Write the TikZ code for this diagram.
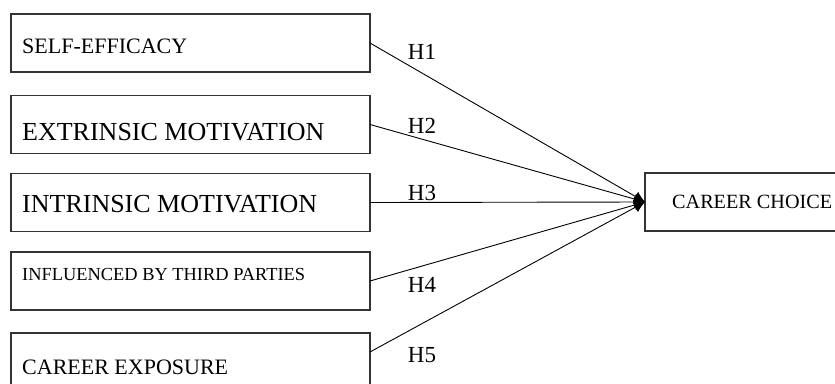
\documentclass[tikz,border=0pt]{standalone}
\usepackage{fontspec}
\setmainfont{Liberation Serif}
\usetikzlibrary{arrows.meta}

\begin{document}
\begin{tikzpicture}[x=1pt, y=-1pt,
    factor/.style={rectangle, draw=black!80, line width=1.2pt, minimum width=359pt, minimum height=58pt, inner sep=0pt, outer sep=0pt},
    txt/.style={anchor=west, inner sep=0pt},
    hyp/.style={inner sep=0pt, font=\fontsize{23}{27}\selectfont},
    link/.style={draw, line width=0.9pt, -{Latex[length=11pt,width=11pt]}}]
    \useasboundingbox (0,0) rectangle (835,383);
    % Place nodes
    \node [factor] (SE) at (190.5,43) {};
    \node [txt, font=\fontsize{22}{26}\selectfont] (SEt) at ([xshift=11pt,yshift=-3pt]SE.west) {SELF-EFFICACY};
    \node [factor] (EM) at (190.5,124.5) {};
    \node [txt, font=\fontsize{26}{30}\selectfont] (EMt) at ([xshift=11pt,yshift=-7.5pt]EM.west) {EXTRINSIC MOTIVATION};
    \node [factor] (IM) at (190.5,202.5) {};
    \node [txt, font=\fontsize{26}{30}\selectfont] (IMt) at ([xshift=11pt,yshift=-2pt]IM.west) {INTRINSIC MOTIVATION};
    \node [factor] (TP) at (190.5,281) {};
    \node [txt, font=\fontsize{18.4}{22}\selectfont] (TPt) at ([xshift=11pt,yshift=7pt]TP.west) {INFLUENCED BY THIRD PARTIES};
    \node [factor] (CE) at (190.5,362) {};
    \node [txt, font=\fontsize{22}{26}\selectfont] (CEt) at ([xshift=11pt,yshift=-5pt]CE.west) {CAREER EXPOSURE};
    \node [factor, minimum width=215pt] (CC) at (752.5,202) {};
    \node [txt, font=\fontsize{20.2}{24}\selectfont] (CCt) at ([xshift=27pt]CC.west) {CAREER CHOICE};
    % Hypotheses
    \node [hyp] (H1) at (422,52) {H1};
    \node [hyp] (H2) at (422,126) {H2};
    \node [hyp] (H3) at (422,193) {H3};
    \node [hyp] (H4) at (422,285) {H4};
    \node [hyp] (H5) at (422,355) {H5};
    % Paths
    \path[link] (SE.east) -- (CC.west);
    \path[link] (EM.east) -- (CC.west);
    \path[link] (IM.east) -- (CC.west);
    \path[link] (TP.east) -- (CC.west);
    \path[link] ([yshift=10pt]CE.east) -- (CC.west);
\end{tikzpicture}
\end{document}
